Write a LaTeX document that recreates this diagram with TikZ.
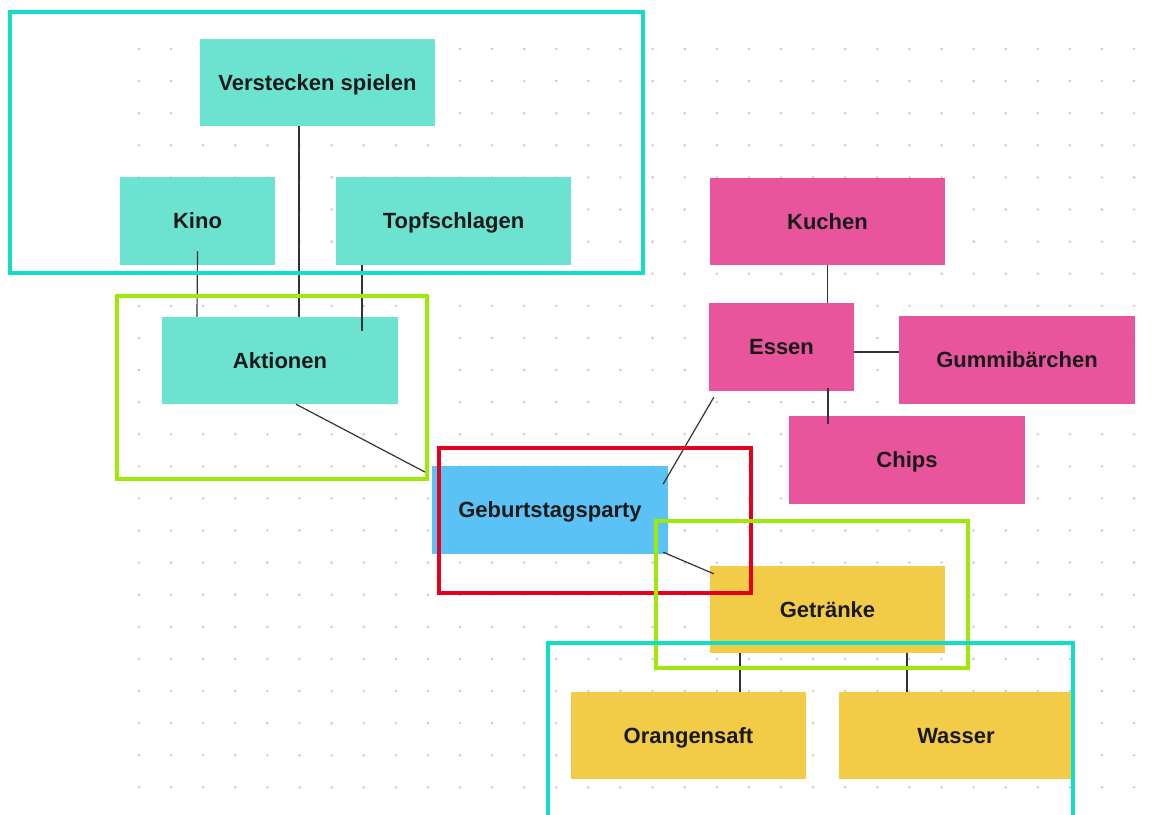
\documentclass[tikz,border=0pt]{standalone}
\usepackage{fontspec}
\setmainfont{Liberation Sans}
\usepackage{xcolor}

\definecolor{mint}{HTML}{6CE3D0}
\definecolor{rose}{HTML}{E9559C}
\definecolor{sky}{HTML}{5BC2F5}
\definecolor{sun}{HTML}{F2CB47}
\definecolor{frameteal}{HTML}{12DEC8}
\definecolor{framelime}{HTML}{9EE80A}
\definecolor{framered}{HTML}{E6001E}
\definecolor{dotgrey}{HTML}{C4C4C4}

\begin{document}
\begin{tikzpicture}[x=1pt, y=-1pt,
    card/.style={inner sep=0pt, minimum width=235pt, minimum height=87pt,
        text height=15.8pt, text depth=0pt,
        text=black!90, font=\bfseries\fontsize{22}{26}\selectfont},
    link/.style={draw=black!80, line width=1.2pt},
    frame/.style={line width=4pt}]
    \useasboundingbox (0,0) rectangle (1159,814);
    % dotted canvas
    \foreach \i in {0,...,31} {
        \foreach \j in {0,...,23} {
            \fill[dotgrey] (139+32.1*\i, 49+32.1*\j) circle (1.3pt);
        }
    }
    % activities
    \node[card, fill=mint] (verstecken) at (317.5,82.5) {Verstecken spielen};
    \node[card, fill=mint, minimum width=155pt, minimum height=88pt] (kino) at (197.5,221) {Kino};
    \node[card, fill=mint, minimum height=88pt] (topf) at (453.5,221) {Topfschlagen};
    \node[card, fill=mint, minimum width=236pt] (aktionen) at (280,360.5) {Aktionen};
    % food
    \node[card, fill=rose] (kuchen) at (827.5,221.5) {Kuchen};
    \node[card, fill=rose, minimum width=145pt, minimum height=88pt] (essen) at (781.5,347) {Essen};
    \node[card, fill=rose, minimum width=236pt, minimum height=88pt] (gummi) at (1017,360) {Gummibärchen};
    \node[card, fill=rose, minimum width=236pt, minimum height=88pt] (chips) at (907,460) {Chips};
    % centre
    \node[card, fill=sky, minimum width=236pt, minimum height=88pt] (party) at (550,510) {Geburtstagsparty};
    % drinks
    \node[card, fill=sun] (getraenke) at (827.5,609.5) {Getränke};
    \node[card, fill=sun] (orangen) at (688.5,735.5) {Orangensaft};
    \node[card, fill=sun, minimum width=234pt] (wasser) at (956,735.5) {Wasser};

    % connectors, they overlap the cards a little
    \draw[link] ([xshift=-18.5pt]verstecken.south) -- ([xshift=19pt]aktionen.north);
    \draw[link] ([yshift=14pt]kino.south) -- ([xshift=-83pt]aktionen.north);
    \draw[link] ([xshift=-91.5pt]topf.south) -- ([xshift=82pt,yshift=-14pt]aktionen.north);
    \draw[link] ([xshift=16pt]aktionen.south) -- ([xshift=-5pt,yshift=37pt]party.west);
    \draw[link] ([xshift=-5pt,yshift=26pt]party.east) -- ([xshift=5pt,yshift=-6pt]essen.south west);
    \draw[link] ([xshift=-5pt,yshift=2pt]party.south east) -- ([xshift=4pt,yshift=-8pt]getraenke.north west);
    \draw[link] (kuchen.south) -- ([xshift=46pt]essen.north);
    \draw[link] ([yshift=-5pt]essen.east) -- ([yshift=8pt]gummi.west);
    \draw[link] ([xshift=46.5pt,yshift=3pt]essen.south) -- ([xshift=-79pt,yshift=-8pt]chips.north);
    \draw[link] ([xshift=-87.5pt]getraenke.south) -- ([xshift=51.5pt]orangen.north);
    \draw[link] ([xshift=79.5pt]getraenke.south) -- ([xshift=-49pt]wasser.north);

    % highlight frames on top
    \draw[frame, frameteal] (9.5,11.5) rectangle (643,272.5);
    \draw[frame, framelime] (116.5,295.5) rectangle (427,479);
    \draw[frame, framered] (439,447.5) rectangle (751,593);
    \draw[frame, framelime] (656,521) rectangle (967.5,668);
    \draw[frame, frameteal] (548,643) rectangle (1073,830);
\end{tikzpicture}
\end{document}
